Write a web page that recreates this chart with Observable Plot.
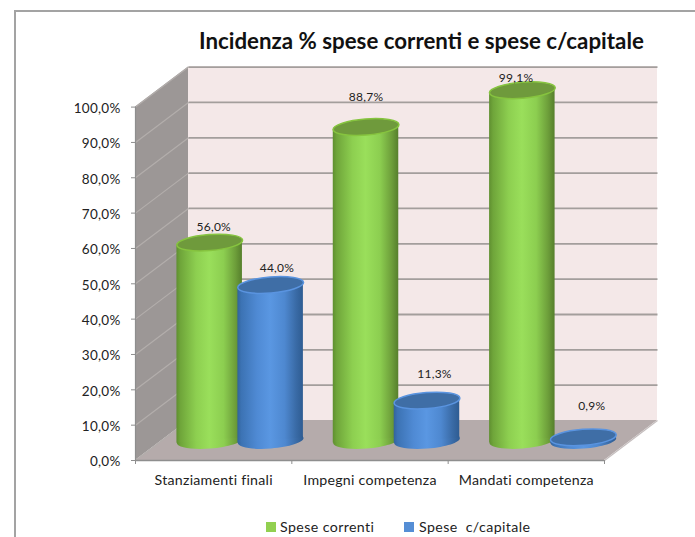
<!DOCTYPE html>
<html>
<head>
<meta charset="utf-8">
<script src="https://cdn.jsdelivr.net/npm/d3@7"></script>
<script src="https://cdn.jsdelivr.net/npm/@observablehq/plot@0.6"></script>
<style>
  html, body { margin: 0; padding: 0; background: #fff; }
  #chart { position: relative; width: 695px; height: 537px; overflow: hidden; font-family: Lato, sans-serif; color: #222; }
  #frame { position: absolute; left: 14px; top: 10px; right: -4px; bottom: -4px; border: 2px solid #a3a3a3; }
  #title { position: absolute; left: 199px; top: 27px; font-size: 22.3px; font-weight: 700; color: #111; white-space: nowrap; }
  #plot { position: absolute; left: 0; top: 60px; }
  #legend { position: absolute; top: 519px; left: 0; width: 695px; height: 16px; font-size: 14.2px; letter-spacing: 0.4px; line-height: 16px; }
  #legend span { position: absolute; white-space: pre; }
  #legend i { position: absolute; width: 10px; height: 10px; top: 3px; }
</style>
</head>
<body>
<div id="chart">
  <div id="frame"></div>
  <div id="title">Incidenza % spese correnti e spese c/capitale</div>
  <div id="plot"></div>
  <div id="legend"></div>
</div>
<script>
const categories = ["Stanziamenti finali", "Impegni competenza", "Mandati competenza"];
const speseCorrenti = [56.0, 88.7, 99.1];
const speseCapitale = [44.0, 11.3, 0.9];
const percentTicks = [0, 10, 20, 30, 40, 50, 60, 70, 80, 90, 100];

// Hand-placed label shifts of the reference (percent units up, category units right)
const labelLiftCorrenti = [4.5, 8.5, 3.4];
const labelLiftCapitale = [4.7, 7.4, 8.8];
const labelNudgeCorrenti = [0.026, 0, -0.04];
const labelNudgeCapitale = [0.04, 0.048, 0.054];

// Oblique projection: one unit of depth, in data units
const depthX = 0.339, depthY = 11.32;
const halfBar = 0.2095, tiltLift = 0.73;
const rx = 33, ry = 8, tilt = -4.5 * Math.PI / 180;

const fmt = v => v.toFixed(1).replace(".", ",") + "%";

// Tilted ellipse symbol for the cylinder caps
const capSymbol = {
  draw(ctx, size) {
    const a = Math.sqrt(size / Math.PI), b = a * ry / rx, k = 0.5523;
    const c = Math.cos(tilt), s = Math.sin(tilt);
    const p = (u, v) => [u * c - v * s, u * s + v * c];
    ctx.moveTo(...p(a, 0));
    ctx.bezierCurveTo(...p(a, k * b), ...p(k * a, b), ...p(0, b));
    ctx.bezierCurveTo(...p(-k * a, b), ...p(-a, k * b), ...p(-a, 0));
    ctx.bezierCurveTo(...p(-a, -k * b), ...p(-k * a, -b), ...p(0, -b));
    ctx.bezierCurveTo(...p(k * a, -b), ...p(a, -k * b), ...p(a, 0));
    ctx.closePath();
  }
};

const series = [
  {name: "Spese correnti", values: speseCorrenti, offset: 0.305, lift: labelLiftCorrenti, nudge: labelNudgeCorrenti,
   grad: "url(#cyl-green)", cap: "#6f9a3c", rim: "#86c43f", swatch: "#92d050"},
  {name: "Spese  c/capitale", values: speseCapitale, offset: 0.695, lift: labelLiftCapitale, nudge: labelNudgeCapitale,
   grad: "url(#cyl-blue)", cap: "#3f6ea6", rim: "#5a94e0", swatch: "#558ed5"}
];

// Gradients
function gradientDefs() {
  const defs = d3.create("svg:defs");
  const add = (id, stops) => {
    const g = defs.append("linearGradient").attr("id", id).attr("x1", 0).attr("x2", 1).attr("y1", 0).attr("y2", 0);
    stops.forEach(([o, c]) => g.append("stop").attr("offset", o).attr("stop-color", c));
  };
  add("cyl-green", [[0, "#5f8f30"], [0.06, "#6fa53a"], [0.3, "#8dcf50"], [0.5, "#9adf5b"], [0.72, "#8cce50"], [0.9, "#6d9e3a"], [1, "#567f2c"]]);
  add("cyl-blue", [[0, "#32639c"], [0.06, "#3c73b4"], [0.3, "#4f8ad4"], [0.5, "#5a97e2"], [0.72, "#4e88d0"], [0.9, "#396aa5"], [1, "#2e5c92"]]);
  return defs.node();
}

// Walls and floor, in data units
const sideWall = [
  {x: 0, y1: 0, y2: 100},
  {x: depthX, y1: depthY, y2: 100 + depthY}
];
const backWall = [
  {x: depthX, y1: depthY, y2: 100 + depthY},
  {x: 3 + depthX, y1: depthY, y2: 100 + depthY}
];
const floor = [
  {y: 0, x1: 0, x2: 3},
  {y: depthY, x1: depthX, x2: 3 + depthX}
];

// Cylinders
const cylinderMarks = [];
const labelRows = [];
categories.forEach((cat, i) => {
  series.forEach(s => {
    const v = s.values[i];
    const cx = i + s.offset + depthX / 2, base = depthY / 2;
    const body = [
      {x: cx - halfBar, y1: base - tiltLift, y2: base + v - tiltLift},
      {x: cx + halfBar, y1: base + tiltLift, y2: base + v + tiltLift}
    ];
    cylinderMarks.push(
      Plot.dot([{x: cx, y: base}], {x: "x", y: "y", r: rx, symbol: capSymbol, fill: s.grad, stroke: "none"}),
      Plot.areaY(body, {x: "x", y1: "y1", y2: "y2", fill: s.grad}),
      Plot.dot([{x: cx, y: base + v}], {x: "x", y: "y", r: rx, symbol: capSymbol, fill: s.cap, stroke: s.rim, strokeWidth: 1.5})
    );
    labelRows.push({x: cx + s.nudge[i], y: base + v + s.lift[i], text: fmt(v)});
  });
});

const chart = Plot.plot({
  width: 695,
  height: 450,
  marginLeft: 135,
  marginRight: 91,
  marginTop: 46.6,
  marginBottom: 50,
  x: {domain: [0, 3]},
  y: {domain: [0, 100]},
  style: {background: "transparent", fontFamily: "Lato, sans-serif", fontSize: "13.5px", letterSpacing: "0.25px"},
  marks: [
    gradientDefs,
    Plot.areaY(sideWall, {x: "x", y1: "y1", y2: "y2", fill: "#9c9796"}),
    Plot.areaY(backWall, {x: "x", y1: "y1", y2: "y2", fill: "#f4e8e8"}),
    Plot.areaX(floor, {y: "y", x1: "x1", x2: "x2", fill: "#b5abab"}),
    Plot.link(percentTicks, {x1: 0, x2: depthX, y1: d => d, y2: d => d + depthY, stroke: "#b3aeac", strokeWidth: 1.2}),
    Plot.link(percentTicks.filter(d => d > 0), {x1: depthX, x2: 3 + depthX, y1: d => d + depthY, y2: d => d + depthY, stroke: "#a39e9c", strokeWidth: 1.8}),
    Plot.link([0], {x1: 3, x2: 3 + depthX, y1: 0, y2: depthY, stroke: "#c4bdbd", strokeWidth: 1.2}),
    ...cylinderMarks,
    Plot.ruleX([0], {y1: 0, y2: 100, stroke: "#8e8e8e", strokeWidth: 1.2}),
    Plot.ruleY([0], {x1: 0, x2: 3, stroke: "#8e8e8e", strokeWidth: 1.5}),
    Plot.axisY({ticks: percentTicks, tickFormat: fmt, tickSize: 0, tickPadding: 15, fill: "#222", label: null, dy: 1.5}),
    Plot.axisY({ticks: percentTicks, tickFormat: () => "", tickSize: 4, stroke: "#8e8e8e", label: null}),
    Plot.axisX({ticks: [0, 1, 2, 3], tickFormat: () => "", tickSize: 4, stroke: "#8e8e8e", label: null}),
    Plot.axisX({ticks: categories.map((_, i) => i + 0.5), tickFormat: d => categories[d - 0.5], tickSize: 0, tickPadding: 14, fontSize: 14.2, fill: "#222", label: null}),
    Plot.text(labelRows, {x: "x", y: "y", text: "text", fontSize: 12, fill: "#222"})
  ]
});
document.getElementById("plot").append(chart);

// Legend
const legendSpots = [{box: 266, text: 280}, {box: 404, text: 419}];
const legend = d3.select("#legend");
series.forEach((s, i) => {
  legend.append("i").style("left", legendSpots[i].box + "px").style("background", s.swatch);
  legend.append("span").style("left", legendSpots[i].text + "px").text(s.name);
});
</script>
</body>
</html>
